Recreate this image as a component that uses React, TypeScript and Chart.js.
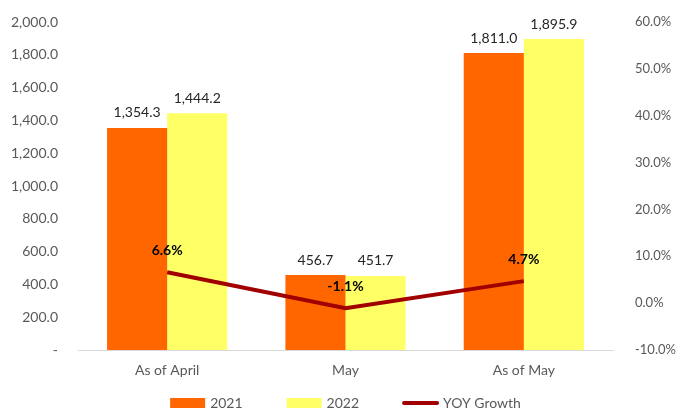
import React, { useEffect, useRef } from "react";
import { Chart, registerables } from "chart.js";

Chart.register(...registerables);

const categories = ["As of April", "May", "As of May"];
const values2021 = [1354.3, 456.7, 1811.0];
const values2022 = [1444.2, 451.7, 1895.9];
const yoyGrowth = [0.066, -0.011, 0.047];
const seriesNames = ["2021", "2022", "YOY Growth"];

const ORANGE = "#FF6600";
const YELLOW = "#FFFF66";
const DARKRED = "#A00000";
const FONT = "Lato, 'Open Sans', sans-serif";

const fmtNum = (v: number) =>
  Math.abs(v) < 1e-9
    ? "-"
    : v.toLocaleString("en-US", { minimumFractionDigits: 1, maximumFractionDigits: 1 });
const fmtPct = (v: number) => {
  const r = Math.round(v * 1000) / 10;
  return (Object.is(r, -0) ? 0 : r).toFixed(1) + "%";
};

const labelPlugin = {
  id: "customLabels",
  afterDatasetsDraw(chart: any) {
    const ctx = chart.ctx;
    ctx.save();
    ctx.textAlign = "center";
    ctx.textBaseline = "middle";
    [0, 1].forEach((di) => {
      const meta = chart.getDatasetMeta(di);
      const data = chart.data.datasets[di].data as number[];
      ctx.font = `14px ${FONT}`;
      ctx.fillStyle = "#262626";
      meta.data.forEach((el: any, i: number) => {
        ctx.fillText(fmtNum(data[i]), el.x, el.y - 15);
      });
    });
    const lmeta = chart.getDatasetMeta(2);
    const ldata = chart.data.datasets[2].data as number[];
    ctx.font = `bold 14px ${FONT}`;
    ctx.fillStyle = "#000000";
    lmeta.data.forEach((el: any, i: number) => {
      ctx.fillText(fmtPct(ldata[i]), el.x, el.y - 22);
    });
    ctx.restore();
  },
  afterDraw(chart: any) {
    const ctx = chart.ctx;
    const area = chart.chartArea;
    ctx.save();
    ctx.font = `14px ${FONT}`;
    const boxW = 35;
    const gapText = 5;
    const gapItem = 44;
    const widths = seriesNames.map((n) => boxW + gapText + ctx.measureText(n).width);
    const total = widths.reduce((a, b) => a + b, 0) + gapItem * (widths.length - 1);
    let x = (area.left + area.right) / 2 - total / 2;
    const cy = 403;
    const colors = [ORANGE, YELLOW, DARKRED];
    seriesNames.forEach((n, i) => {
      if (i < 2) {
        ctx.fillStyle = colors[i];
        ctx.fillRect(x, cy - 5, boxW, 10);
      } else {
        ctx.strokeStyle = colors[i];
        ctx.lineWidth = 4;
        ctx.lineCap = "round";
        ctx.beginPath();
        ctx.moveTo(x + 1, cy);
        ctx.lineTo(x + boxW - 1, cy);
        ctx.stroke();
      }
      ctx.fillStyle = "#595959";
      ctx.textAlign = "left";
      ctx.textBaseline = "middle";
      ctx.fillText(n, x + boxW + gapText, cy);
      x += widths[i] + gapItem;
    });
    ctx.restore();
  },
};

export default function App() {
  const ref = useRef<HTMLCanvasElement>(null);
  useEffect(() => {
    if (!ref.current) return;
    const chart = new Chart(ref.current, {
      type: "bar",
      data: {
        labels: categories,
        datasets: [
          {
            type: "bar",
            label: seriesNames[0],
            data: values2021,
            backgroundColor: ORANGE,
            yAxisID: "y",
            order: 2,
            categoryPercentage: 0.674,
            barPercentage: 1,
          },
          {
            type: "bar",
            label: seriesNames[1],
            data: values2022,
            backgroundColor: YELLOW,
            yAxisID: "y",
            order: 2,
            categoryPercentage: 0.674,
            barPercentage: 1,
          },
          {
            type: "line",
            label: seriesNames[2],
            data: yoyGrowth,
            borderColor: DARKRED,
            borderWidth: 4,
            pointRadius: 0,
            yAxisID: "y1",
            order: 1,
            tension: 0,
          } as any,
        ],
      },
      options: {
        animation: false,
        responsive: false,
        maintainAspectRatio: false,
        layout: { padding: { top: 22, bottom: 30, left: 0, right: 0 } },
        plugins: {
          legend: { display: false },
          tooltip: { enabled: false },
        },
        scales: {
          x: {
            grid: { display: false, drawTicks: false },
            border: { display: true, color: "#D9D9D9", width: 1 },
            ticks: { color: "#595959", font: { size: 14, family: FONT }, padding: 12 },
            afterFit: (s: any) => {
              s.height = 29;
            },
          },
          y: {
            position: "left",
            min: 0,
            max: 2000,
            grid: { display: false, drawTicks: false },
            border: { display: false },
            ticks: {
              stepSize: 200,
              color: "#595959",
              font: { size: 14, family: FONT },
              padding: 20,
              callback: (v: any) => fmtNum(Number(v)),
            },
            afterFit: (s: any) => {
              s.width = 78;
              s.paddingTop = 0;
              s.paddingBottom = 0;
            },
          },
          y1: {
            position: "right",
            min: -0.1,
            max: 0.6,
            grid: { display: false, drawTicks: false },
            border: { display: false },
            ticks: {
              stepSize: 0.1,
              color: "#595959",
              font: { size: 13, family: FONT },
              padding: 22,
              callback: (v: any) => fmtPct(Number(v)),
            },
            afterFit: (s: any) => {
              s.width = 63;
              s.paddingTop = 0;
              s.paddingBottom = 0;
            },
          },
        },
      },
      plugins: [labelPlugin],
    });
    return () => chart.destroy();
  }, []);
  return (
    <div style={{ position: "fixed", left: 0, top: 0, width: 676, height: 409, background: "#fff" }}>
      <canvas ref={ref} width={676} height={409} style={{ width: 676, height: 409 }} />
    </div>
  );
}
